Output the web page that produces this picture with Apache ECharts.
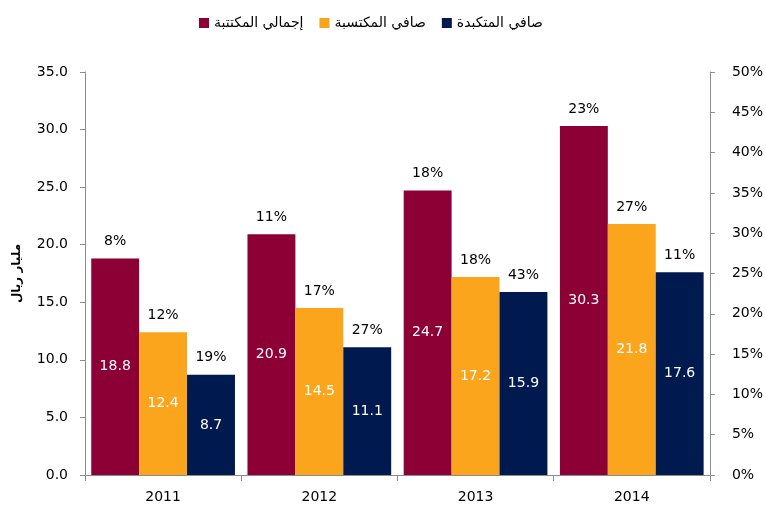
<!DOCTYPE html>
<html>
<head>
<meta charset="utf-8">
<script src="https://cdn.jsdelivr.net/npm/echarts@6/dist/echarts.min.js"></script>
<style>
html, body { margin: 0; padding: 0; background: #fff; }
#chart { width: 766px; height: 506px; }
</style>
</head>
<body>
<div id="chart"></div>
<script>
var years = ['2011', '2012', '2013', '2014'];
var seriesNames = ['إجمالي المكتتبة', 'صافي المكتسبة', 'صافي المتكبدة'];
var grossWritten = [18.8, 20.9, 24.7, 30.3];
var netEarned = [12.4, 14.5, 17.2, 21.8];
var netIncurred = [8.7, 11.1, 15.9, 17.6];
var grossGrowth = ['8%', '11%', '18%', '23%'];
var earnedGrowth = ['12%', '17%', '18%', '27%'];
var incurredGrowth = ['19%', '27%', '43%', '11%'];
var colors = ['#8c0036', '#fba51d', '#001a4f'];

var mychart = echarts.init(document.getElementById('chart'));
var font = 'DejaVu Sans, sans-serif';
var values = [grossWritten, netEarned, netIncurred];
var growth = [grossGrowth, earnedGrowth, incurredGrowth];

var series = [];
for (var i = 0; i < 3; i++) {
	series.push({
		name : seriesNames[i],
		type : 'bar',
		stack : 's' + i,
		data : values[i],
		barCategoryGap : '8%',
		barGap : '0%',
		itemStyle : { color : colors[i] },
		label : {
			show : true,
			position : 'inside',
			color : '#fff',
			fontSize : 14,
			fontFamily : font,
			formatter : function(p) { return p.value.toFixed(1); }
		}
	});
	// zero height bar on top, carries the growth label
	(function(g) {
		series.push({
			name : 'g' + i,
			type : 'bar',
			stack : 's' + i,
			data : [0, 0, 0, 0],
			itemStyle : { color : 'transparent' },
			label : {
				show : true,
				position : 'top',
				distance : 10,
				color : '#000',
				fontSize : 14,
				fontFamily : font,
				formatter : function(p) { return g[p.dataIndex]; }
			}
		});
	})(growth[i]);
}

var option = {
	animation : false,
	legend : {
		data : seriesNames,
		top : 11,
		left : 194,
		icon : 'rect',
		itemWidth : 10,
		itemHeight : 10,
		itemGap : 16,
		textStyle : { fontSize : 14, fontFamily : font, color : '#000' }
	},
	grid : { left : 85, right : 56, top : 72, bottom : 31 },
	xAxis : {
		type : 'category',
		data : years,
		axisLine : { lineStyle : { color : '#8c8c8c' } },
		axisTick : { show : true, length : 6, lineStyle : { color : '#8c8c8c' } },
		axisLabel : { color : '#000', fontSize : 14, fontFamily : font, margin : 15 }
	},
	yAxis : [ {
		type : 'value',
		min : 0,
		max : 35,
		interval : 5,
		name : 'مليار ريال',
		nameLocation : 'middle',
		nameRotate : 90,
		nameGap : 62,
		nameTextStyle : { color : '#000', fontSize : 12, fontWeight : 'bold', fontFamily : font },
		splitLine : { show : false },
		axisLine : { show : true, lineStyle : { color : '#8c8c8c' } },
		axisTick : { show : true, length : 5, lineStyle : { color : '#8c8c8c' } },
		axisLabel : {
			color : '#000', fontSize : 14, fontFamily : font, margin : 17,
			formatter : function(v) { return v.toFixed(1); }
		}
	}, {
		type : 'value',
		min : 0,
		max : 50,
		interval : 5,
		position : 'right',
		splitLine : { show : false },
		axisLine : { show : true, lineStyle : { color : '#8c8c8c' } },
		axisTick : { show : true, length : 5, lineStyle : { color : '#8c8c8c' } },
		axisLabel : { color : '#000', fontSize : 14, fontFamily : font, margin : 22, formatter : '{value}%' }
	} ],
	series : series
};
mychart.setOption(option);
</script>
</body>
</html>
